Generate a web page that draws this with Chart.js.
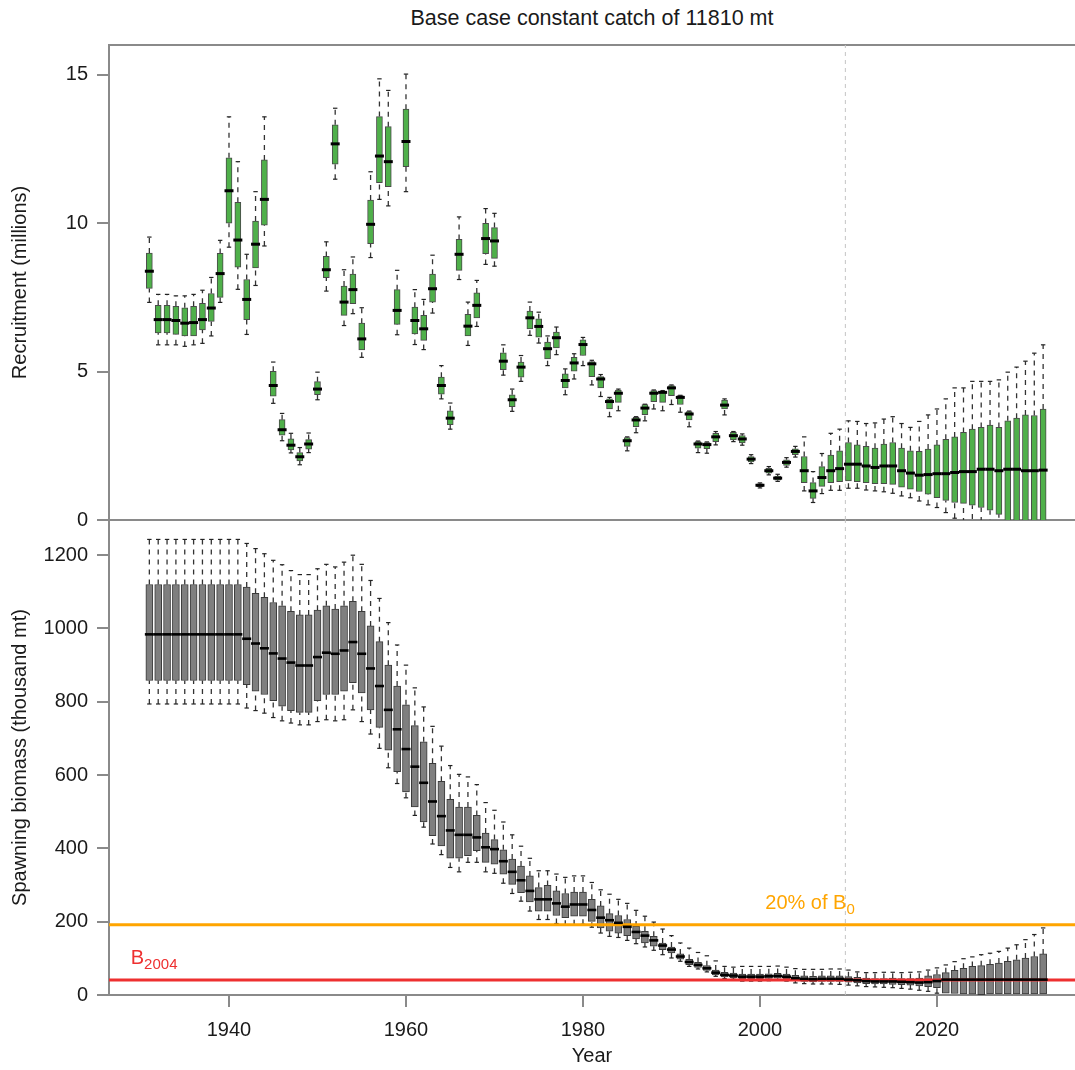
<!DOCTYPE html>
<html><head><meta charset="utf-8">
<script src="https://cdn.jsdelivr.net/npm/chart.js@4.4.1/dist/chart.umd.min.js"></script>
<style>
html,body{margin:0;padding:0;background:#fff;}
#wrap{position:relative;width:1075px;height:1070px;overflow:hidden;background:#fff;}
#title{position:absolute;left:109px;width:966px;top:6px;line-height:24px;text-align:center;font-size:21.5px;font-family:"Liberation Sans",Arial,sans-serif;color:#1a1a1a;}
canvas{position:absolute;left:0;}
#c1{top:0;}
#c2{top:510px;}
</style></head><body>
<div id="wrap">
<div id="title">Base case constant catch of 11810 mt</div>
<canvas id="c1" width="1075" height="530" style="width:1075px;height:530px"></canvas>
<canvas id="c2" width="1075" height="560" style="width:1075px;height:560px"></canvas>
</div>
<script>
// ---------- data ----------
const years = [1931,1932,1933,1934,1935,1936,1937,1938,1939,1940,1941,1942,1943,1944,1945,1946,1947,1948,1949,1950,
1951,1952,1953,1954,1955,1956,1957,1958,1959,1960,1961,1962,1963,1964,1965,1966,1967,1968,1969,1970,
1971,1972,1973,1974,1975,1976,1977,1978,1979,1980,1981,1982,1983,1984,1985,1986,1987,1988,1989,1990,
1991,1992,1993,1994,1995,1996,1997,1998,1999,2000,2001,2002,2003,2004,2005,2006,2007,2008,2009,2010,
2011,2012,2013,2014,2015,2016,2017,2018,2019,2020,2021,2022,2023,2024,2025,2026,2027,2028,2029,2030,2031,2032];

// Recruitment (millions)
const recMed = [8.38,6.75,6.75,6.72,6.63,6.65,6.75,7.14,8.3,11.09,
9.43,7.43,9.29,10.8,4.53,3.04,2.52,2.13,2.56,4.41,
8.43,12.67,7.34,7.76,6.1,9.96,12.26,12.07,7.06,12.75,
6.72,6.44,7.79,4.53,3.43,8.95,6.53,7.23,9.48,9.4,
5.35,4.05,5.15,6.81,6.52,5.77,6.14,4.7,5.29,5.91,
5.26,4.75,3.99,4.27,2.67,3.37,3.77,4.27,4.3,4.45,
4.13,3.57,2.56,2.54,2.8,3.87,2.84,2.73,2.05,1.17,
1.66,1.41,1.94,2.31,1.66,0.98,1.43,1.66,1.73,1.88,
1.88,1.82,1.77,1.82,1.82,1.66,1.58,1.51,1.53,1.56,
1.56,1.6,1.63,1.63,1.71,1.71,1.66,1.71,1.71,1.66,1.66,1.68];
const recQ1 = [7.8,6.3,6.3,6.25,6.2,6.2,6.4,6.69,7.5,10.0,
8.52,6.75,8.49,9.93,4.17,2.86,2.36,1.99,2.39,4.22,
8.16,11.99,6.89,7.29,5.73,9.31,11.36,11.23,6.59,11.9,
6.27,6.05,7.34,4.24,3.21,8.41,6.2,6.81,8.97,8.81,
5.06,3.82,4.81,6.44,6.16,5.43,5.8,4.45,5.01,5.54,
4.83,4.45,3.74,3.96,2.48,3.14,3.55,3.99,3.96,4.19,
3.89,3.37,2.42,2.4,2.64,3.74,2.7,2.6,1.96,1.12,
1.58,1.34,1.84,2.2,1.26,0.73,1.13,1.26,1.29,1.32,
1.29,1.26,1.22,1.22,1.2,1.11,1.04,0.96,0.87,0.75,
0.66,0.59,0.56,0.5,0.42,0.33,0.19,-0.03,-0.1,-0.15,-0.2,-0.25];
const recQ3 = [8.99,7.23,7.23,7.2,7.15,7.2,7.3,7.63,8.98,12.2,
10.7,8.1,10.07,12.13,5.01,3.38,2.73,2.27,2.71,4.66,
8.88,13.31,7.88,8.28,6.63,10.78,13.59,13.25,7.76,13.84,
7.17,6.89,8.28,4.81,3.68,9.45,6.93,7.65,9.99,9.85,
5.63,4.22,5.32,7.04,6.78,5.99,6.33,4.92,5.48,6.07,
5.34,4.83,4.08,4.38,2.78,3.46,3.89,4.36,4.33,4.53,
4.19,3.65,2.64,2.61,2.92,4.04,2.95,2.84,2.14,1.22,
1.74,1.48,2.03,2.4,2.14,1.26,1.8,2.19,2.33,2.61,
2.53,2.48,2.42,2.56,2.61,2.42,2.33,2.31,2.39,2.53,
2.72,2.8,2.95,3.06,3.12,3.2,3.12,3.34,3.43,3.54,3.52,3.74];
const recLo = [7.33,5.9,5.9,5.9,5.85,5.9,5.95,6.2,7.33,9.19,
7.77,6.25,7.9,9.23,3.93,2.67,2.26,1.86,2.27,4.05,
7.71,11.48,6.55,6.95,5.48,8.84,10.8,10.58,6.24,11.06,
5.91,5.74,6.97,4.08,3.06,8.1,5.88,6.52,8.61,8.55,
4.88,3.66,4.67,6.22,5.96,5.2,5.57,4.22,4.75,5.2,
4.55,4.16,3.48,3.68,2.33,2.94,3.34,3.74,3.68,3.89,
3.63,3.14,2.27,2.25,2.53,3.54,2.64,2.52,1.9,1.08,
1.52,1.3,1.78,2.12,0.98,0.59,0.89,1.0,1.0,1.07,
1.07,1.01,0.98,0.95,0.9,0.81,0.75,0.64,0.51,0.42,
0.25,0.06,-0.1,-0.3,-0.4,-0.5,-0.6,-0.8,-0.9,-1.0,-1.1,-1.2];
const recHi = [9.53,7.6,7.6,7.55,7.55,7.6,7.74,8.17,9.42,13.58,
12.07,8.95,11.06,13.58,5.32,3.59,2.92,2.44,2.93,4.98,
9.37,13.87,8.43,8.86,7.15,11.73,14.86,14.47,8.41,15.02,
7.76,7.43,8.92,5.2,3.94,10.21,7.34,8.07,10.49,10.33,
5.9,4.41,5.54,7.34,7.0,6.2,6.5,5.09,5.6,6.15,
5.38,4.9,4.13,4.41,2.8,3.48,3.9,4.38,4.36,4.55,
4.2,3.67,2.66,2.63,2.98,4.08,2.98,2.9,2.2,1.25,
1.8,1.54,2.1,2.48,2.8,1.63,2.24,2.92,3.06,3.34,
3.32,3.25,3.27,3.4,3.48,3.25,3.12,3.32,3.54,3.74,
4.08,4.45,4.45,4.67,4.67,4.67,4.72,4.98,5.15,5.35,5.62,5.9];

// Spawning biomass (thousand mt)
const ssbMed = [984,984,984,984,984,984,984,984,984,984,
984,972,959,946,932,918,907,899,899,922,
934,931,940,963,931,891,843,778,725,671,
623,579,528,488,449,437,437,430,403,398,
365,336,313,284,261,261,250,241,247,247,
232,211,204,197,186,172,162,149,135,124,
105,90,82,73,61,55,53,50,50,50,
51,52,50,46,44,43,44,44,44,42,
40,38,37,37,37,36,35,34,35,38,
42,42,42,42,42,42,42,42,42,42,42,42];
const ssbQ1 = [858,858,858,858,858,858,858,858,858,858,
858,847,829,820,803,788,776,771,771,803,
820,820,829,852,824,778,730,668,609,554,
513,472,435,407,373,373,380,394,362,357,
330,302,279,254,229,229,217,211,215,215,
201,183,174,169,162,153,142,133,124,115,
98,83,75,67,55,49,47,44,44,44,
45,46,44,39,37,36,37,37,37,35,
33,31,30,30,29,28,27,25,23,20,
5,4,3,2,1,0,0,0,0,0,0,0];
const ssbQ3 = [1120,1120,1120,1120,1120,1120,1120,1120,1120,1120,
1120,1113,1096,1085,1071,1062,1047,1037,1037,1050,
1062,1053,1062,1074,1047,1007,964,900,843,792,
735,691,632,583,534,513,513,490,442,424,
396,371,352,325,293,299,284,277,281,281,
261,243,222,217,206,188,174,160,142,131,
112,97,89,80,68,62,60,57,57,57,
58,59,57,54,52,51,52,52,52,50,
48,46,45,45,46,45,45,46,52,56,
61,67,73,78,80,84,87,92,96,101,105,112];
const ssbLo = [794,794,794,794,794,794,794,794,794,794,
794,783,776,769,757,748,742,737,737,746,
751,748,751,778,746,712,673,620,577,538,
490,458,412,383,348,336,362,362,336,332,
305,277,256,229,206,206,195,190,192,193,
185,169,160,157,149,140,131,122,110,101,
92,78,71,63,51,45,43,38,38,38,
39,40,38,33,31,30,30,30,29,27,
25,23,22,21,20,18,16,13,10,5,
null,null,null,null,null,null,null,null,null,null,null,null];
const ssbHi = [1243,1243,1243,1243,1243,1243,1243,1243,1243,1243,
1243,1232,1218,1204,1186,1174,1158,1147,1147,1163,
1175,1168,1181,1200,1175,1131,1082,1016,955,900,
838,786,733,679,626,602,595,574,525,504,
472,437,406,373,339,339,330,321,325,325,
307,287,275,261,250,231,215,199,180,162,
142,128,116,107,93,78,76,78,78,78,
78,79,76,72,70,70,70,71,71,68,
63,61,61,62,62,61,62,63,68,74,
82,91,99,104,110,114,119,128,137,151,165,183];

const recTicks = [0, 5, 10, 15];
const ssbTicks = [0, 200, 400, 600, 800, 1000, 1200];
const yearTicks = [1940, 1960, 1980, 2000, 2020];
const b0Level = 192;      // 20% of B0
const b2004Level = 41;    // B2004
const projectionStart = 2009.65;

// ---------- style ----------
const FONT = '"Liberation Sans", Arial, sans-serif';
Chart.defaults.font.family = FONT;
Chart.defaults.color = '#1a1a1a';
const X_MIN = 1926.44, X_MAX = 2035.6;
const AXIS = '#8a8a8a';
const GREEN = '#4fb04a', GREEN_EDGE = '#4a4a4a';
const GRAY = '#7f7f7f', GRAY_EDGE = '#3a3a3a';
const ORANGE = '#ffa500', RED = '#ee3030';

function boxData(q1, q3) { return years.map((yr, i) => ({x: yr, y: [q1[i], q3[i]]})); }
function whiskerData(lo, q1, q3, hi) {
  const out = [];
  years.forEach((yr, i) => {
    if (lo[i] !== null) out.push({x: yr, y: lo[i]}, {x: yr, y: q1[i]}, {x: yr, y: null});
    out.push({x: yr, y: q3[i]}, {x: yr, y: hi[i]}, {x: yr, y: null});
  });
  return out;
}
function capData(lo, hi) {
  const out = [];
  years.forEach((yr, i) => {
    if (lo[i] !== null) out.push({x: yr, y: lo[i]});
    out.push({x: yr, y: hi[i]});
  });
  return out;
}
function medData(med) { return years.map((yr, i) => ({x: yr, y: med[i]})); }

function boxDatasets(med, q1, q3, lo, hi, fill, edge, barW, medR, medW) {
  return [
    {type: 'line', data: whiskerData(lo, q1, q3, hi), borderColor: '#333', borderWidth: 1.3,
     borderDash: [5, 5], pointRadius: 0, spanGaps: false, fill: false, order: 5, clip: 0},
    {type: 'bar', data: boxData(q1, q3), backgroundColor: fill, borderColor: edge, borderWidth: 1,
     borderSkipped: false, barThickness: barW, order: 4, clip: 0},
    {type: 'line', data: capData(lo, hi), showLine: false, pointStyle: 'line', pointRadius: 2.2,
     pointBorderWidth: 1.2, pointBorderColor: '#222', pointBackgroundColor: '#222', order: 3, clip: 0},
    {type: 'line', data: medData(med), showLine: false, pointStyle: 'line', pointRadius: medR,
     pointBorderWidth: medW, pointBorderColor: '#000', pointBackgroundColor: '#000', order: 1, clip: 0}
  ];
}
function vLine(yMax) {
  return {type: 'line', data: [{x: projectionStart, y: 0}, {x: projectionStart, y: yMax}],
    borderColor: '#c4c4c4', borderWidth: 1, borderDash: [4, 4], pointRadius: 0, order: 6, clip: 0};
}
function hLine(level, color) {
  return {type: 'line', data: [{x: X_MIN, y: level}, {x: X_MAX, y: level}],
    borderColor: color, borderWidth: 3, pointRadius: 0, order: 2, clip: 0};
}
const setTicks = arr => (s => { s.ticks = arr.map(v => ({value: v})); });
function yScale(max, ticksArr, title) {
  return {
    type: 'linear', position: 'left', min: 0, max: max,
    afterBuildTicks: setTicks(ticksArr),
    ticks: {font: {size: 20}, color: '#1a1a1a', padding: 9, callback: v => String(v)},
    grid: {display: true, drawOnChartArea: false, drawTicks: true, tickLength: 12, color: AXIS, lineWidth: 2},
    border: {display: true, color: AXIS, width: 2},
    title: {display: true, text: title, font: {size: 20}, color: '#1a1a1a', padding: {top: 8, bottom: 0}},
    afterFit: s => { s.width = 109; s.paddingTop = 0; s.paddingBottom = 0; }
  };
}
const common = {
  responsive: false, animation: false, devicePixelRatio: 1, events: [],
  plugins: {legend: {display: false}, tooltip: {enabled: false}, title: {display: false}}
};

// ---------- top: recruitment ----------
new Chart(document.getElementById('c1'), {
  type: 'bar',
  data: {datasets: [vLine(16), ...boxDatasets(recMed, recQ1, recQ3, recLo, recHi, GREEN, GREEN_EDGE, 6, 4.5, 3)]},
  options: Object.assign({}, common, {
    layout: {autoPadding: false, padding: {top: 45, bottom: 10, left: 0, right: 0}},
    scales: {
      x: {type: 'linear', position: 'bottom', min: X_MIN, max: X_MAX, offset: false,
          grid: {display: false, offset: false}, ticks: {display: false},
          border: {display: true, color: AXIS, width: 2}, afterFit: s => { s.height = 0; }},
      xTop: {type: 'linear', axis: 'x', position: 'top', min: X_MIN, max: X_MAX, offset: false,
          grid: {display: false, offset: false}, ticks: {display: false},
          border: {display: true, color: AXIS, width: 2}, afterFit: s => { s.height = 0; }},
      y: yScale(16, recTicks, 'Recruitment (millions)')
    }
  })
});

// ---------- bottom: spawning biomass ----------
const refLabels = {
  id: 'refLabels',
  afterDatasetsDraw(chart) {
    const {ctx} = chart; const xs = chart.scales.x, ys = chart.scales.y;
    function sub(main, s, xv, yv, color) {
      const px = xs.getPixelForValue(xv), py = ys.getPixelForValue(yv);
      ctx.save();
      ctx.fillStyle = color; ctx.textBaseline = 'alphabetic'; ctx.textAlign = 'left';
      ctx.font = '20px ' + FONT; ctx.fillText(main, px, py);
      const w = ctx.measureText(main).width;
      ctx.font = '15px ' + FONT; ctx.fillText(s, px + w, py + 5);
      ctx.restore();
    }
    sub('20% of B', '0', 2000.6, 234, ORANGE);
    sub('B', '2004', 1928.9, 84, RED);
  }
};
new Chart(document.getElementById('c2'), {
  type: 'bar',
  data: {datasets: [vLine(1296), ...boxDatasets(ssbMed, ssbQ1, ssbQ3, ssbLo, ssbHi, GRAY, GRAY_EDGE, 7, 4.5, 2.6),
                    hLine(b0Level, ORANGE), hLine(b2004Level, RED)]},
  options: Object.assign({}, common, {
    layout: {autoPadding: false, padding: {top: 10, bottom: 0, left: 0, right: 0}},
    scales: {
      x: {type: 'linear', position: 'bottom', min: X_MIN, max: X_MAX, offset: false,
          afterBuildTicks: setTicks(yearTicks),
          ticks: {font: {size: 20}, color: '#1a1a1a', padding: 11, maxRotation: 0, autoSkip: false, callback: v => String(v)},
          grid: {display: true, offset: false, drawOnChartArea: false, drawTicks: true, tickLength: 12, color: AXIS, lineWidth: 2},
          border: {display: true, color: AXIS, width: 2},
          title: {display: true, text: 'Year', font: {size: 20}, color: '#1a1a1a', padding: {top: 0, bottom: 2}},
          afterFit: s => { s.height = 75; s.paddingLeft = 0; s.paddingRight = 0; }},
      y: yScale(1296, ssbTicks, 'Spawning biomass (thousand mt)')
    }
  }),
  plugins: [refLabels]
});
</script>
</body></html>
